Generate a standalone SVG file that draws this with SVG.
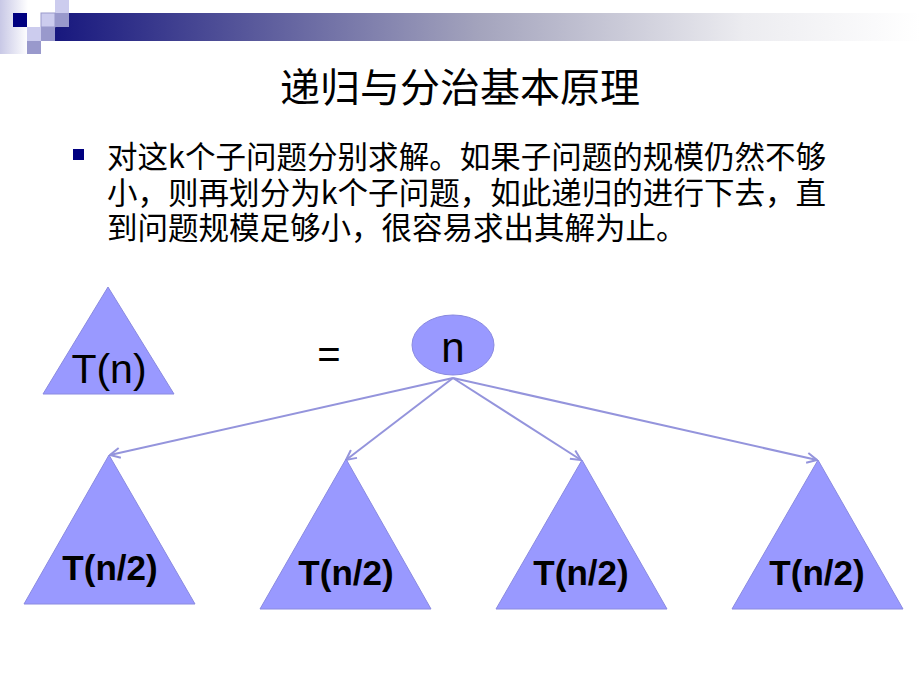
<svg xmlns="http://www.w3.org/2000/svg" width="920" height="690" viewBox="0 0 920 690">
<defs>
<linearGradient id="barG" x1="0" y1="0" x2="1" y2="0">
<stop offset="0" stop-color="#13137c"/>
<stop offset="0.5" stop-color="#a4a4bd"/>
<stop offset="0.8" stop-color="#ececf0"/>
<stop offset="1" stop-color="#ffffff"/>
</linearGradient>
<linearGradient id="leftG" x1="0" y1="0" x2="1" y2="0">
<stop offset="0" stop-color="#c8c8e6"/>
<stop offset="1" stop-color="#ffffff"/>
</linearGradient>
<marker id="arr" viewBox="0 0 12 12" refX="11" refY="6" markerWidth="12" markerHeight="12" markerUnits="userSpaceOnUse" orient="auto">
<path d="M1,1 L11,6 L1,11" fill="none" stroke="#9494dc" stroke-width="2"/>
</marker>
<style>
.tri{fill:#9999ff;stroke:#8a8ae0;stroke-width:1}
.ell{fill:#9999ff;stroke:#8a8ae0;stroke-width:1}
.lbl{font-family:"Liberation Sans",Arial,sans-serif;fill:#000;text-anchor:middle}
.bold{font-weight:bold;font-size:35px}
.cjk{font-family:"Noto Sans CJK SC","Noto Sans CJK TC",sans-serif;fill:#000}
.conn{stroke:#9494dc;stroke-width:2;fill:none;marker-end:url(#arr)}
.sqL{fill:#ccccee}
.sqM{fill:#9999cc}
</style>
</defs>
<rect width="920" height="690" fill="#ffffff"/>
<g id="header">
<rect x="0" y="0" width="28" height="54" fill="url(#leftG)"/>
<rect x="41" y="13" width="879" height="28" fill="url(#barG)"/>
<rect x="13" y="13" width="14" height="14" fill="#000080"/>
<rect class="sqL" x="55" y="0" width="14" height="13"/>
<rect class="sqL" x="41" y="13" width="14" height="14" stroke="#9999cc" stroke-width="1"/>
<rect class="sqM" x="55" y="13" width="14" height="14"/>
<rect class="sqL" x="27" y="27" width="14" height="14"/>
<rect class="sqM" x="41" y="27" width="14" height="14"/>
<rect class="sqM" x="27" y="41" width="14" height="13"/>
</g>
<g id="title">
<text class="cjk" x="460" y="102" font-size="40" text-anchor="middle">递归与分治基本原理</text>
</g>
<g id="bullet">
<rect x="73" y="149" width="11" height="11" fill="#000080"/>
<text class="cjk" x="107" y="168" font-size="30.5" textLength="719" lengthAdjust="spacing">对这k个子问题分别求解。如果子问题的规模仍然不够</text>
<text class="cjk" x="107" y="204" font-size="30.5" textLength="719" lengthAdjust="spacing">小，则再划分为k个子问题，如此递归的进行下去，直</text>
<text class="cjk" x="107" y="239" font-size="30.5">到问题规模足够小，很容易求出其解为止。</text>
</g>
<g id="node-Tn">
<polygon class="tri" points="108,287 43,394 174,394"/>
<text class="lbl" x="109" y="383" font-size="41">T(n)</text>
</g>
<g id="equals">
<text class="lbl" x="329" y="368" font-size="40">=</text>
</g>
<g id="node-n">
<ellipse class="ell" cx="453" cy="345" rx="41" ry="30"/>
<text class="lbl" x="453" y="362" font-size="42">n</text>
</g>
<g id="connectors">
<line class="conn" x1="453" y1="378" x2="110" y2="455"/>
<line class="conn" x1="453" y1="378" x2="346" y2="460"/>
<line class="conn" x1="453" y1="378" x2="581" y2="460"/>
<line class="conn" x1="453" y1="378" x2="817" y2="460"/>
</g>
<g id="node-T1">
<polygon class="tri" points="109,455 24,604 195,604"/>
<text class="lbl bold" x="110" y="580">T(n/2)</text>
</g>
<g id="node-T2">
<polygon class="tri" points="346,459 260,609 431,609"/>
<text class="lbl bold" x="346" y="585">T(n/2)</text>
</g>
<g id="node-T3">
<polygon class="tri" points="582,460 496,609 667,609"/>
<text class="lbl bold" x="581" y="585">T(n/2)</text>
</g>
<g id="node-T4">
<polygon class="tri" points="818,460 732,609 903,609"/>
<text class="lbl bold" x="817" y="585">T(n/2)</text>
</g>
</svg>
